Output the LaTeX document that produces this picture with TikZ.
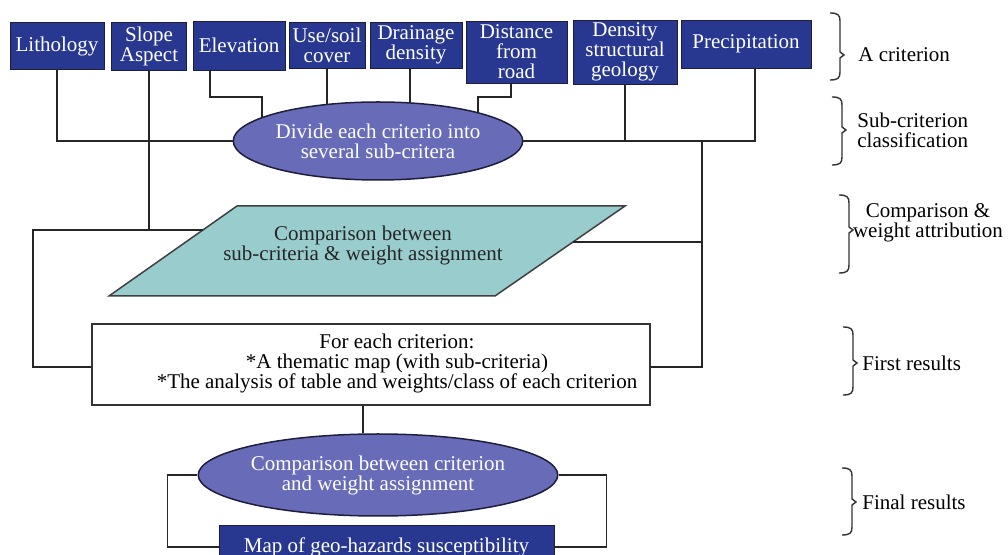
\documentclass[tikz,border=0pt]{standalone}
\usepackage{fontspec}
\setmainfont{Liberation Serif}
\usetikzlibrary{shapes.geometric, backgrounds}
\definecolor{critblue}{RGB}{40,56,145}
\definecolor{ovalblue}{RGB}{104,108,184}
\definecolor{slabteal}{RGB}{153,204,204}
\definecolor{edgedark}{RGB}{30,30,60}
\newcommand{\SideBrace}[4]{
    \draw[brace line] ({#1-10},#2) .. controls ({#1-2},#2) and (#1,{#2+2}) .. (#1,{#2+8})
        -- (#1,{#3-3}) -- ({#1+4},#3) -- (#1,{#3+3})
        -- (#1,{#4-8}) .. controls (#1,{#4-2}) and ({#1-2},#4) .. ({#1-10},#4);
}

\begin{document}
\begin{tikzpicture}[x=0.5pt, y=-0.5pt,
    every node/.style={font=\fontsize{10.5}{10}\selectfont},
    crit/.style={draw=edgedark, fill=critblue, text=white, align=center, inner sep=1pt},
    oval/.style={ellipse, draw=edgedark, line width=0.75pt, fill=ovalblue, text=white, align=center, inner sep=0pt},
    link/.style={draw=black!85, line width=0.75pt},
    brace line/.style={draw=black!80, line width=0.7pt},
    side/.style={anchor=west, align=left, inner sep=0pt}]
    \clip (0,0) rectangle (1008,555);

    % criteria
    \node[crit, minimum width=47pt, minimum height=23.5pt] (lith) at (57,46) {Lithology};
    \node[crit, minimum width=37.5pt, minimum height=24pt] (slope) at (149,46) {Slope\\Aspect};
    \node[crit, minimum width=46pt, minimum height=24.5pt] (elev) at (239,45.5) {Elevation};
    \node[crit, minimum width=38pt, minimum height=23pt] (soil) at (327,45) {Use/soil\\cover};
    \node[crit, minimum width=46pt, minimum height=23pt] (drain) at (416,45) {Drainage\\density};
    \node[crit, minimum width=50.5pt, minimum height=31pt] (road) at (516.5,52) {Distance\\from\\road};
    \node[crit, minimum width=52pt, minimum height=32pt] (struct) at (625,52) {Density\\structural\\geology};
    \node[crit, minimum width=65pt, minimum height=24pt] (prec) at (746,44) {Precipitation};

    \node[oval, minimum width=141pt, minimum height=39pt] (divide) at (378,141) {Divide each criterio into\\several sub-critera};

    \draw[draw=black!75, fill=slabteal, line width=0.75pt] (109,296) -- (495,296) -- (625,206) -- (237,206) -- cycle;
    \node[text=black!85, align=center] (compare) at (363,245) {Comparison between\\sub-criteria \& weight assignment};
    \coordinate (parleft) at (203,230);
    \coordinate (parright) at (573,242);

    \node[draw=black!80, line width=0.75pt, fill=white, inner sep=0pt,
        minimum width=279pt, minimum height=40.5pt] (result) at (371,364.5) {};
    \node[align=center, inner sep=0pt] (resulttext) at (397,363)
        {For each criterion:\\*A thematic map (with sub-criteria)\\*The analysis of table and weights/class of each criterion};

    \node[oval, minimum width=153.5pt, minimum height=41pt] (final) at (378,475) {Comparison between criterion\\and weight assignment};
    \node[crit, minimum width=167.5pt, minimum height=22pt] (map) at (386.5,547) {Map of geo-hazards susceptibility};

    \coordinate (elevbend) at (262,97);
    \coordinate (roadbend) at (478,97);
    \coordinate (lefttop) at (33,230);
    \coordinate (leftbot) at (33,367);
    \coordinate (righttop) at (702,141);
    \coordinate (rightbot) at (702,367);

    \begin{scope}[on background layer]
        \draw[link] ([xshift=-14.5pt]elev.south) |- (elevbend) -- (elevbend |- divide.center);
        \draw[link] (soil.south) -- (soil.south |- divide.center);
        \draw[link] ([xshift=-3pt]drain.south) -- ([xshift=-3pt]drain.south |- divide.center);
        \draw[link] ([xshift=-2.75pt]road.south) |- (roadbend) -- (roadbend |- divide.center);
    \end{scope}
    \draw[link] (lith) |- (divide);
    \draw[link] (divide) -| (struct);
    \draw[link] (divide) -| ([xshift=4.5pt]prec.south);
    \draw[link] (slope) -- (slope |- lefttop);
    \draw[link] (parleft) -- (lefttop) -- (leftbot) -- (leftbot -| result.west);
    \draw[link] (parright) -- (parright -| righttop);
    \draw[link] (righttop) -- (rightbot) -- (rightbot -| result.east);
    \draw[link] ([xshift=-4pt]result.south) -- ([xshift=-4pt]result.south |- final.north);
    \draw[link] (final.west) -- ++(-30,0) |- (map.west);
    \draw[link] (final.east) -- ++(48,0) |- (map.east);

    % stages
    \SideBrace{840}{13}{55}{80}
    \SideBrace{842}{97}{130}{165}
    \SideBrace{849}{195}{230}{273}
    \SideBrace{853}{327}{363}{395}
    \SideBrace{852}{468}{502}{535}
    \node[side] (stage1) at (858,55) {A criterion};
    \node[side] (stage2) at (857,130) {Sub-criterion\\classification};
    \node[align=center, inner sep=0pt] (stage3) at (928,223) {Comparison \&\\weight attribution};
    \node[side] (stage4) at (862,363) {First results};
    \node[side] (stage5) at (862,502) {Final results};
\end{tikzpicture}
\end{document}
